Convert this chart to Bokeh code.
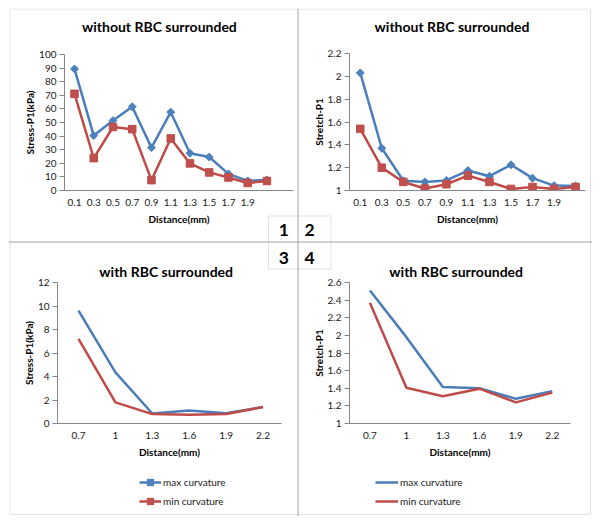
import numpy as np
from bokeh.plotting import figure
from bokeh.models import (Range1d, FixedTicker, NumeralTickFormatter, Label, Span,
                          BoxAnnotation, Legend, LegendItem, ColumnDataSource)
from bokeh.embed import file_html
from bokeh.resources import INLINE

# ---------------- data ----------------
dist_top = ["0.1", "0.3", "0.5", "0.7", "0.9", "1.1", "1.3", "1.5", "1.7", "1.9", ""]
stress_wo_max = [89.4, 40.4, 51.4, 61.6, 31.5, 57.6, 27.4, 24.6, 12.2, 7.1, 7.8]
stress_wo_min = [71.1, 23.8, 46.7, 45.1, 7.6, 38.3, 19.9, 13.3, 9.6, 5.5, 7.0]
stretch_wo_max = [2.03, 1.37, 1.085, 1.075, 1.088, 1.175, 1.125, 1.225, 1.108, 1.043, 1.04]
stretch_wo_min = [1.54, 1.20, 1.075, 1.017, 1.055, 1.13, 1.075, 1.014, 1.031, 1.014, 1.031]

dist_bottom = ["0.7", "1", "1.3", "1.6", "1.9", "2.2"]
stress_w_max = [9.6, 4.35, 0.85, 1.1, 0.88, 1.4]
stress_w_min = [7.2, 1.8, 0.8, 0.74, 0.8, 1.4]
stretch_w_max = [2.51, 1.98, 1.415, 1.40, 1.28, 1.365]
stretch_w_min = [2.37, 1.405, 1.31, 1.395, 1.24, 1.35]

stress_wo_ticks = [0, 10, 20, 30, 40, 50, 60, 70, 80, 90, 100]
stretch_wo_ticks = [1, 1.2, 1.4, 1.6, 1.8, 2, 2.2]
stress_w_ticks = [0, 2, 4, 6, 8, 10, 12]
stretch_w_ticks = [1, 1.2, 1.4, 1.6, 1.8, 2, 2.2, 2.4, 2.6]

series_names = ["max curvature", "min curvature"]
titles = ["without RBC surrounded", "without RBC surrounded",
          "with RBC surrounded", "with RBC surrounded"]
y_labels = ["Stress-P1(kPa)", "Stretch-P1", "Stress-P1(kPa)", "Stretch-P1"]
x_label = "Distance(mm)"
panel_numbers = ["1", "2", "3", "4"]

# ---------------- style ----------------
BLUE_LINE = "#4A7EBB"
BLUE_FILL = "#4F81BD"
RED_LINE = "#BE4B48"
RED_FILL = "#C0504D"
AXIS_GREY = "#868686"
BORDER_GREY = "#a3a3a3"
FONT = "Lato"
W, H = 584, 508
MARGIN = 8


def place(left, top):
    return {"position": "absolute", "left": f"{MARGIN + left}px", "top": f"{MARGIN + top}px"}


def make_chart(width, height, mb, cats, vmax, vmin, x_rng, y_rng, yticks,
               yfmt, ylabel, markers, pos):
    p = figure(width=width, height=height, output_backend="svg",
               toolbar_location=None, tools="",
               x_range=Range1d(*x_rng), y_range=Range1d(*y_rng),
               min_border_left=mb[0], min_border_right=mb[1],
               min_border_top=mb[2], min_border_bottom=mb[3],
               styles=place(*pos))
    p.outline_line_color = None
    p.background_fill_color = None
    p.border_fill_color = None
    p.xgrid.visible = False
    p.ygrid.visible = False

    idx = list(range(len(cats)))
    src = ColumnDataSource(dict(x=idx, hi=vmax, lo=vmin))

    p.line("x", "hi", source=src, line_color=BLUE_LINE, line_width=2.5, line_join="round")
    if markers:
        p.scatter("x", "hi", source=src, marker="square", angle=np.pi / 4, size=5.6,
                  fill_color=BLUE_FILL, line_color=BLUE_LINE, line_width=1)
    p.line("x", "lo", source=src, line_color=RED_LINE, line_width=2.5, line_join="round")
    if markers:
        p.scatter("x", "lo", source=src, marker="square", size=7.5,
                  fill_color=RED_FILL, line_color=RED_LINE, line_width=1)

    p.xaxis.ticker = FixedTicker(ticks=[i for i, c in enumerate(cats) if c])
    p.xaxis.major_label_overrides = {i: c for i, c in enumerate(cats) if c}
    p.yaxis.ticker = FixedTicker(ticks=yticks)
    p.yaxis.formatter = NumeralTickFormatter(format=yfmt)
    for ax in p.axis:
        ax.axis_line_color = AXIS_GREY
        ax.axis_line_width = 1
        ax.major_tick_line_color = AXIS_GREY
        ax.minor_tick_line_color = None
        ax.major_label_text_font = FONT
        ax.major_label_text_font_size = "10px"
        ax.major_label_text_color = "#1a1a1a"
        ax.axis_label_text_font = FONT
        ax.axis_label_text_font_size = "10px"
        ax.axis_label_text_font_style = "bold"
        ax.axis_label_text_color = "black"
    p.xaxis.major_tick_line_color = None
    p.xaxis.major_tick_out = 0
    p.xaxis.major_tick_in = 0
    p.xaxis.major_label_standoff = 8
    p.xaxis.axis_label_standoff = 4
    p.xaxis.axis_label = x_label
    p.yaxis.major_tick_out = 5
    p.yaxis.major_tick_in = 0
    p.yaxis.major_label_standoff = 3
    p.yaxis.axis_label_standoff = 0
    p.yaxis.axis_label = ylabel
    return p


p1 = make_chart(289, 233, (56, 4, 46, 51), dist_top, stress_wo_max, stress_wo_min,
                (-0.52, 11.38), (0, 100), stress_wo_ticks, "0", y_labels[0], True, (0, 0))
p2 = make_chart(295, 233, (52, 7, 45, 51), dist_top, stretch_wo_max, stretch_wo_min,
                (-0.5, 10.46), (1, 2.2), stretch_wo_ticks, "0.[0]", y_labels[1], True, (289, 0))
p3 = make_chart(289, 275, (49, 16, 41, 93), dist_bottom, stress_w_max, stress_w_min,
                (-0.57, 5.5), (0, 12), stress_w_ticks, "0", y_labels[2], False, (0, 233))
p4 = make_chart(295, 275, (52, 22, 41, 93), dist_bottom, stretch_w_max, stretch_w_min,
                (-0.56, 5.5), (1, 2.6), stretch_w_ticks, "0.[0]", y_labels[3], False, (289, 233))

# ---------------- background sheet: table lines, titles, panel numbers, legends ----------------
bg = figure(width=W, height=H, output_backend="svg", toolbar_location=None, tools="",
            x_range=Range1d(0, W), y_range=Range1d(H, 0), min_border=0,
            x_axis_location=None, y_axis_location=None, styles=place(0, 0))
bg.xgrid.visible = False
bg.ygrid.visible = False
bg.outline_line_color = None
bg.background_fill_color = "white"
bg.border_fill_color = "white"

# outer frame of the 2x2 table
bg.add_layout(BoxAnnotation(left=1.5, right=582.0, top=0.5, bottom=506.0,
                            fill_color=None, fill_alpha=0,
                            line_color=BORDER_GREY, line_width=1))
# central numbered box
bg.add_layout(BoxAnnotation(left=260.0, right=322.5, top=207.5, bottom=260.5,
                            fill_color="white", fill_alpha=1,
                            line_color=BORDER_GREY, line_width=1))
# dividers
bg.add_layout(Span(location=289.5, dimension="height", line_color=BORDER_GREY, line_width=1))
bg.add_layout(Span(location=233.5, dimension="width", line_color=BORDER_GREY, line_width=1))

title_pos = [(150.9, 17.5), (443.5, 17.5), (157.7, 263.4), (447.7, 263.4)]
for t, (tx, ty) in zip(titles, title_pos):
    bg.add_layout(Label(x=tx, y=ty, text=t, text_align="center", text_baseline="middle",
                        text_font=FONT, text_font_style="bold", text_font_size="14px",
                        text_color="black"))

num_pos = [(275.4, 221.0), (301.0, 221.0), (275.4, 249.2), (301.0, 249.2)]
for n, (nx, ny) in zip(panel_numbers, num_pos):
    bg.add_layout(Label(x=nx, y=ny, text=n, text_align="center", text_baseline="middle",
                        text_font=FONT, text_font_style="bold", text_font_size="17.5px",
                        text_color="black"))

# legend key swatches (renderers holding a single NaN, they only feed the legends)
key = ColumnDataSource(dict(x=[np.nan], y=[np.nan]))
lg_l_hi = bg.line("x", "y", source=key, line_color=BLUE_LINE, line_width=2.5)
lg_m_hi = bg.scatter("x", "y", source=key, marker="square", angle=np.pi / 4,
                     fill_color=BLUE_FILL, line_color=BLUE_LINE)
lg_l_lo = bg.line("x", "y", source=key, line_color=RED_LINE, line_width=2.5)
lg_m_lo = bg.scatter("x", "y", source=key, marker="square",
                     fill_color=RED_FILL, line_color=RED_LINE)


def add_legend(loc, gw, items):
    leg = Legend(items=items, location=loc, orientation="vertical",
                 glyph_width=gw, glyph_height=16, label_height=16,
                 label_standoff=2, spacing=3, padding=0, margin=0,
                 border_line_color=None, background_fill_alpha=0,
                 label_text_font=FONT, label_text_font_size="10px",
                 label_text_color="#1a1a1a")
    bg.add_layout(leg, "center")


add_legend((131, 7), 22, [LegendItem(label=series_names[0], renderers=[lg_l_hi, lg_m_hi]),
                          LegendItem(label=series_names[1], renderers=[lg_l_lo, lg_m_lo])])
add_legend((367, 7), 23, [LegendItem(label=series_names[0], renderers=[lg_l_hi]),
                          LegendItem(label=series_names[1], renderers=[lg_l_lo])])

open("out.html", "w").write(file_html([bg, p1, p2, p3, p4], INLINE,
                                      title="RBC surrounded charts"))
